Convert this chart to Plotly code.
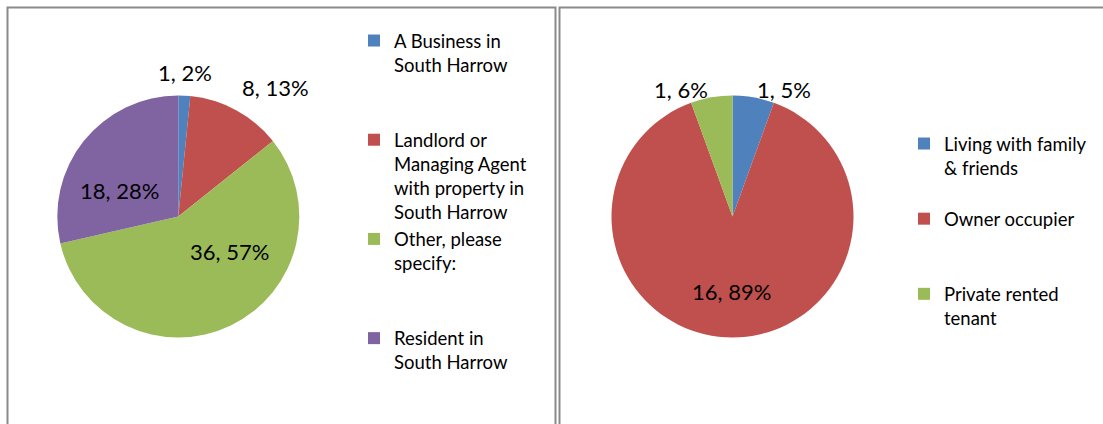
import math
import plotly.graph_objects as go

# Respondent type
type_legend = ["A Business in<br>South Harrow<br> <br> ",
               "Landlord or<br>Managing Agent<br>with property in<br>South Harrow",
               "Other, please<br>specify:<br> <br> ",
               "Resident in<br>South Harrow"]
type_counts = [1, 8, 36, 18]
type_pct = ["2%", "13%", "57%", "28%"]

# Tenure of residents
tenure_legend = ["Living with family<br>& friends<br> ",
                 "Owner occupier<br> <br> ",
                 "Private rented<br>tenant"]
tenure_counts = [1, 16, 1]
tenure_pct = ["5%", "89%", "6%"]

colors4 = ["#4F81BD", "#C0504D", "#9BBB59", "#8064A2"]
colors3 = ["#4F81BD", "#C0504D", "#9BBB59"]

W, H = 1103, 424
FONT = "Lato, 'Open Sans', sans-serif"
LABEL_SIZE = 22
LEGEND_SIZE = 18.5

# pie geometry in pixels: centre x, centre y, radius
LEFT_PIE = (178.3, 216.5, 121)
RIGHT_PIE = (732.5, 216.5, 121)

# label placement per slice: ("out", gap) for labels outside the pie,
# ("in", angle tweak in degrees, radius fraction) for labels inside
left_place = [("out", 8), ("out", 8), ("in", -30, 0.51), ("in", -15, 0.53)]
right_place = [("out", 8), ("in", 1, 0.62), ("out", 8)]


def dom(cx, cy, r):
    return dict(x=[(cx - r) / W, (cx + r) / W], y=[1 - (cy + r) / H, 1 - (cy - r) / H])


def slice_labels(values, pcts, geom, place):
    cx, cy, r = geom
    total = sum(values)
    cum = 0
    notes = []
    for v, p, pl in zip(values, pcts, place):
        theta = 2 * math.pi * (cum + v / 2) / total  # clockwise from 12 o'clock
        cum += v
        if pl[0] == "out":
            rho = r + pl[1]
            s, c = math.sin(theta), math.cos(theta)
            px, py = cx + rho * s, cy - rho * c
            if abs(s) < 0.1:
                xa, ya = "center", "bottom"
            elif abs(s) < 0.3:
                xa, ya = ("left" if s > 0 else "right"), "middle"
            else:
                xa, ya = ("left" if s > 0 else "right"), "bottom"
        else:
            t = theta + math.radians(pl[1])
            rho = r * pl[2]
            px, py = cx + rho * math.sin(t), cy - rho * math.cos(t)
            xa, ya = "center", "middle"
        notes.append(dict(x=px / W, y=1 - py / H, xref="paper", yref="paper",
                          text=f"{v}, {p}", showarrow=False, xanchor=xa, yanchor=ya,
                          font=dict(family=FONT, size=LABEL_SIZE, color="black")))
    return notes


fig = go.Figure()
fig.add_trace(go.Pie(
    labels=type_legend, values=type_counts, hoverinfo="label+value+percent",
    sort=False, direction="clockwise", rotation=0, textinfo="none",
    marker=dict(colors=colors4, line=dict(width=0)),
    domain=dom(*LEFT_PIE), legend="legend",
))
fig.add_trace(go.Pie(
    labels=tenure_legend, values=tenure_counts, hoverinfo="label+value+percent",
    sort=False, direction="clockwise", rotation=0, textinfo="none",
    marker=dict(colors=colors3, line=dict(width=0)),
    domain=dom(*RIGHT_PIE), legend="legend2",
))

annotations = (slice_labels(type_counts, type_pct, LEFT_PIE, left_place)
               + slice_labels(tenure_counts, tenure_pct, RIGHT_PIE, right_place))

legend_style = dict(font=dict(family=FONT, size=LEGEND_SIZE, color="black"), valign="top",
                    bgcolor="rgba(0,0,0,0)", itemwidth=30, tracegroupgap=0,
                    xanchor="left", yanchor="top")
fig.update_layout(
    width=W, height=H, margin=dict(l=0, r=0, t=0, b=0),
    paper_bgcolor="white", plot_bgcolor="white",
    font=dict(family=FONT),
    showlegend=True,
    legend=dict(x=354 / W, y=1 - 22 / H, **legend_style),
    legend2=dict(x=904 / W, y=1 - 125 / H, **legend_style),
    annotations=annotations,
    shapes=[
        dict(type="rect", xref="paper", yref="paper", x0=7.5 / W, x1=555.5 / W,
             y0=-0.05, y1=1 - 7.5 / H, line=dict(color="#8a8a8a", width=2)),
        dict(type="rect", xref="paper", yref="paper", x0=559.5 / W, x1=1.05,
             y0=-0.05, y1=1 - 7.5 / H, line=dict(color="#8a8a8a", width=2)),
    ],
)

fig.write_html("out.html")
